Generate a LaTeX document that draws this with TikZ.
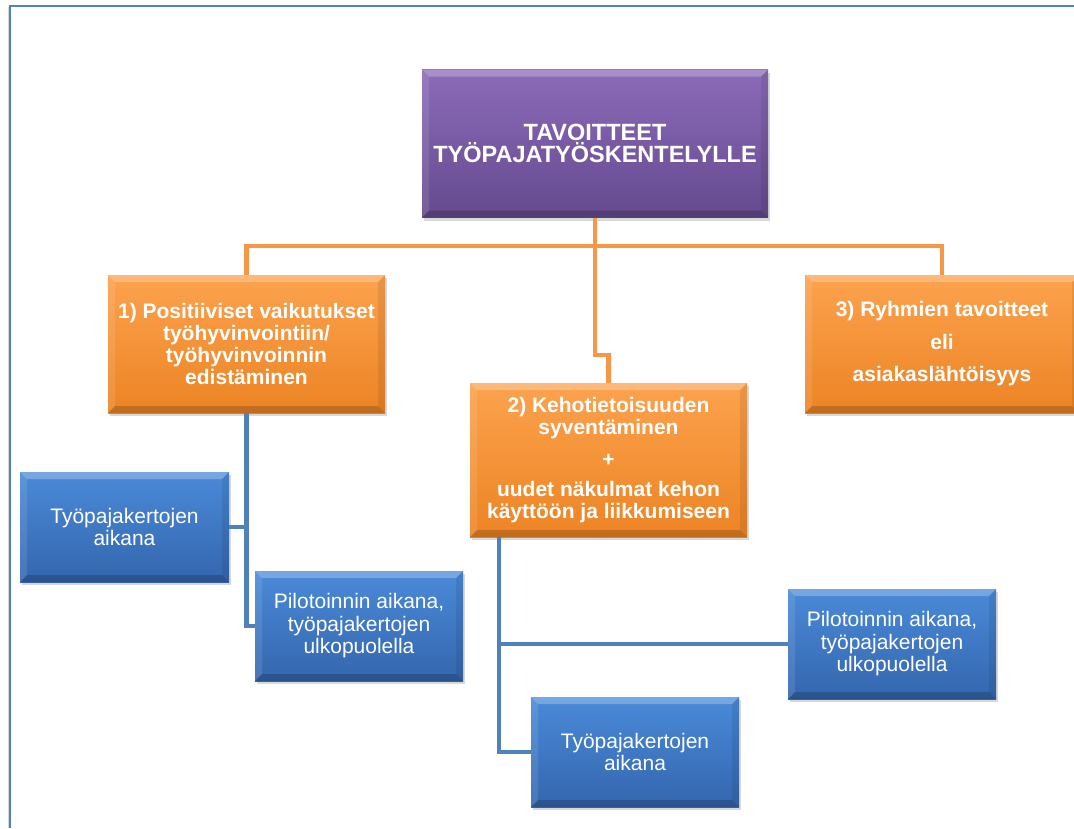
\documentclass[tikz,border=0pt]{standalone}
\usepackage{fontspec}
\setmainfont{Liberation Sans}
\usetikzlibrary{calc,shadows}
\definecolor{pTop}{HTML}{8C6BBA}
\definecolor{pBot}{HTML}{654A8E}
\definecolor{oTop}{HTML}{FCA24E}
\definecolor{oBot}{HTML}{EC8424}
\definecolor{bTop}{HTML}{4A8AD8}
\definecolor{bBot}{HTML}{3466AE}
\definecolor{oLine}{HTML}{F79646}
\definecolor{bLine}{HTML}{4F81BD}
\tikzset{
  bevel/.style={path picture={
    \path (path picture bounding box.north west) coordinate (pNW)
          (path picture bounding box.north east) coordinate (pNE)
          (path picture bounding box.south east) coordinate (pSE)
          (path picture bounding box.south west) coordinate (pSW);
    \coordinate (iNW) at ($(pNW)+(#1,-#1)$);
    \coordinate (iNE) at ($(pNE)+(-#1,-#1)$);
    \coordinate (iSE) at ($(pSE)+(-#1,#1)$);
    \coordinate (iSW) at ($(pSW)+(#1,#1)$);
    \fill[white,opacity=0.25] (pNW) -- (pNE) -- (iNE) -- (iNW) -- cycle;
    \fill[white,opacity=0.10] (pNW) -- (iNW) -- (iSW) -- (pSW) -- cycle;
    \fill[black,opacity=0.08] (pNE) -- (pSE) -- (iSE) -- (iNE) -- cycle;
    \fill[black,opacity=0.18] (pSW) -- (iSW) -- (iSE) -- (pSE) -- cycle;
  }},
  box/.style={rectangle, inner sep=0pt, align=center, text=white,
    drop shadow={opacity=0.3, shadow xshift=2pt, shadow yshift=-3pt}, bevel=7pt},
  titlebox/.style={box, top color=pTop, bottom color=pBot,
    minimum width=346pt, minimum height=148pt,
    font=\fontsize{23.5}{22}\selectfont\bfseries},
  goalbox/.style={box, top color=oTop, bottom color=oBot,
    minimum width=277pt, minimum height=138pt,
    font=\fontsize{21}{22}\selectfont\bfseries},
  subbox/.style={box, top color=bTop, bottom color=bBot,
    minimum width=209pt, minimum height=110pt,
    font=\fontsize{21}{22.5}\selectfont},
  oline/.style={draw=oLine, line width=4.5pt},
  bline/.style={draw=bLine, line width=4.5pt},
}
\begin{document}
\begin{tikzpicture}[x=1pt,y=-1pt]
\useasboundingbox (0,0) rectangle (1074,828);
\fill[white] (0,0) rectangle (1074,828);
% page frame
\draw[black!15, line width=1pt] (8,7) -- (8,828);
\draw[bLine, line width=2pt] (1074,6) -- (10,6) -- (10,828);

\coordinate (bus) at (0,246);
\coordinate (jog) at (0,355);

\node[titlebox] (top) at (595,143.5) {TAVOITTEET\\TYÖPAJATYÖSKENTELYLLE};
\node[goalbox] (b1) at (246.5,344) {1) Positiiviset vaikutukset\\työhyvinvointiin/\\työhyvinvoinnin\\edistäminen};
\node[goalbox, minimum height=154pt] (b2) at (608.5,460) {2) Kehotietoisuuden\\syventäminen\\[10pt]+\\[8pt]uudet näkulmat kehon\\käyttöön ja liikkumiseen};
\node[goalbox, minimum width=274pt] (b3) at (942,344) {3) Ryhmien tavoitteet\\[11pt]eli\\[10pt]asiakaslähtöisyys};

\node[subbox] (a1) at (124.5,527) {Työpajakertojen\\aikana};
\node[subbox, minimum width=208pt] (a2) at (359,626) {Pilotoinnin aikana,\\työpajakertojen\\ulkopuolella};
\node[subbox, minimum width=208pt] (c1) at (892,644) {Pilotoinnin aikana,\\työpajakertojen\\ulkopuolella};
\node[subbox, minimum width=208pt] (c2) at (635,752) {Työpajakertojen\\aikana};

\draw[oline] (b1.north) |- (b3.north |- bus) -- (b3.north);
\draw[oline] (top.south) -- (top.south |- jog) -| (b2.north);
\draw[bline] (b1.south) |- (a2.west);
\draw[bline] (a1.east) -- (a1.east -| b1.south);
\coordinate (b2l) at ($(b2.south west)+(29,0)$);
\draw[bline] (b2l) |- (c2.west);
\draw[bline] (c1.west) -- (c1.west -| b2l);
\end{tikzpicture}
\end{document}
